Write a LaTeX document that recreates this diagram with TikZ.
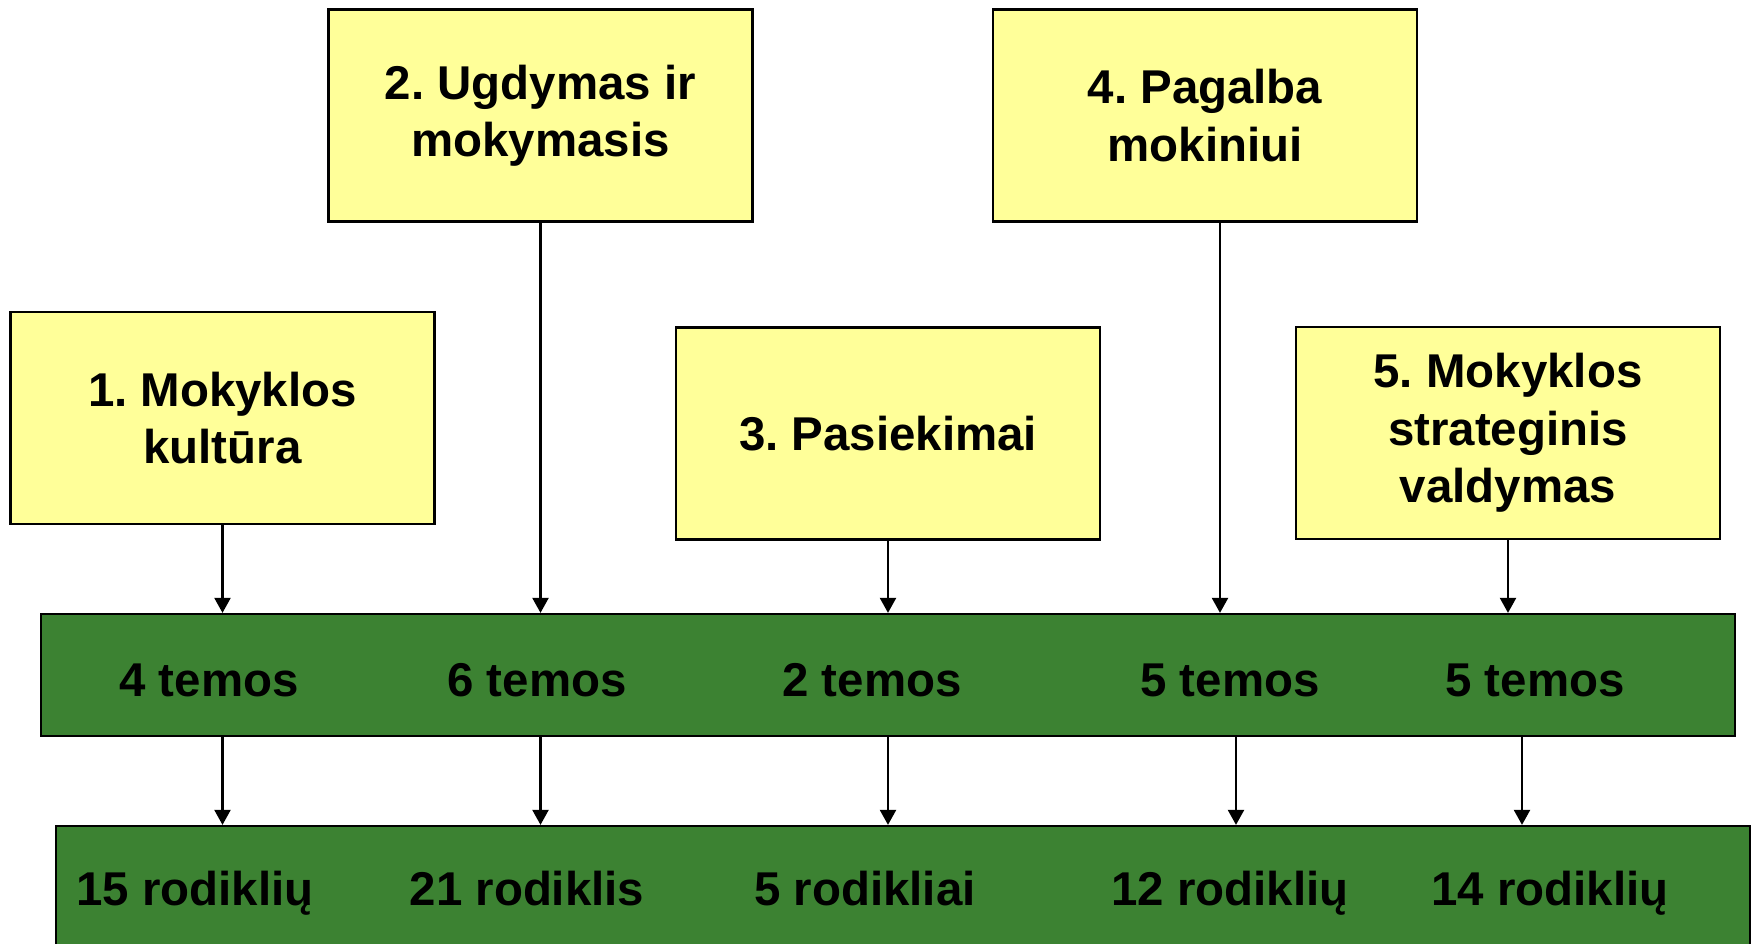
\documentclass[tikz,border=0pt]{standalone}
\usepackage{fontspec}
\setmainfont{Liberation Sans}
\usetikzlibrary{arrows.meta,positioning}

\definecolor{geltona}{RGB}{255,255,153}
\definecolor{zalia}{RGB}{60,130,50}

\begin{document}
\frenchspacing
\begin{tikzpicture}[x=0.02cm,y=-0.02cm,line width=1.3pt,
    font=\bfseries\fontsize{27}{32.6}\selectfont,
    krit/.style={draw,fill=geltona,minimum width=8.48cm,minimum height=4.24cm,align=center,inner sep=0pt},
    juosta/.style={draw,fill=zalia,minimum width=33.88cm,minimum height=2.44cm},
    zod/.style={anchor=base}]
     \useasboundingbox (0,0) rectangle (1754,943);
     \clip (0,0) rectangle (1754,943);
     % sritys
     \node[krit] (k_1) at (222.5,418) {1. Mokyklos\\kultūra};
     \node[krit] (k_2) at (540.5,115.5) {2. Ugdymas ir\\mokymasis};
     \node[krit] (k_3) at (888,433.5) {3. Pasiekimai};
     \node[krit] (k_4) at (1205,115.5) {4. Pagalba\\mokiniui};
     \node[krit] (k_5) at (1508,433) {5. Mokyklos\\strateginis\\valdymas};
     % juostos
     \node[juosta] (tem) at (888,675) {};
     \node[juosta] (rod) at (903,887) {};
     \node[zod] (tem_1) at (209,696) {4 temos};
     \node[zod] (tem_2) at (537,696) {6 temos};
     \node[zod] (tem_3) at (872,696) {2 temos};
     \node[zod] (tem_4) at (1230,696) {5 temos};
     \node[zod] (tem_5) at (1535,696) {5 temos};
     \node[zod] (rod_1) at (195,905) {15 rodiklių};
     \node[zod] (rod_2) at (527,905) {21 rodiklis};
     \node[zod] (rod_3) at (865,905) {5 rodikliai};
     \node[zod] (rod_4) at (1230,905) {12 rodiklių};
     \node[zod] (rod_5) at (1550,905) {14 rodiklių};
      \path[-{Triangle[length=0.3cm,width=0.32cm]}]
      (k_1) edge (k_1 |- tem.north)
      (k_2) edge (k_2 |- tem.north)
      (k_3) edge (k_3 |- tem.north)
      ([xshift=0.3cm]k_4.south) edge ([xshift=0.3cm]k_4.south |- tem.north)
      (k_5) edge (k_5 |- tem.north)
      (k_1 |- tem.south) edge (k_1 |- rod.north)
      (k_2 |- tem.south) edge (k_2 |- rod.north)
      (k_3 |- tem.south) edge (k_3 |- rod.north)
      ([xshift=0.62cm]k_4.south |- tem.south) edge ([xshift=0.62cm]k_4.south |- rod.north)
      ([xshift=0.28cm]k_5.south |- tem.south) edge ([xshift=0.28cm]k_5.south |- rod.north);
    \end{tikzpicture}
\end{document}
